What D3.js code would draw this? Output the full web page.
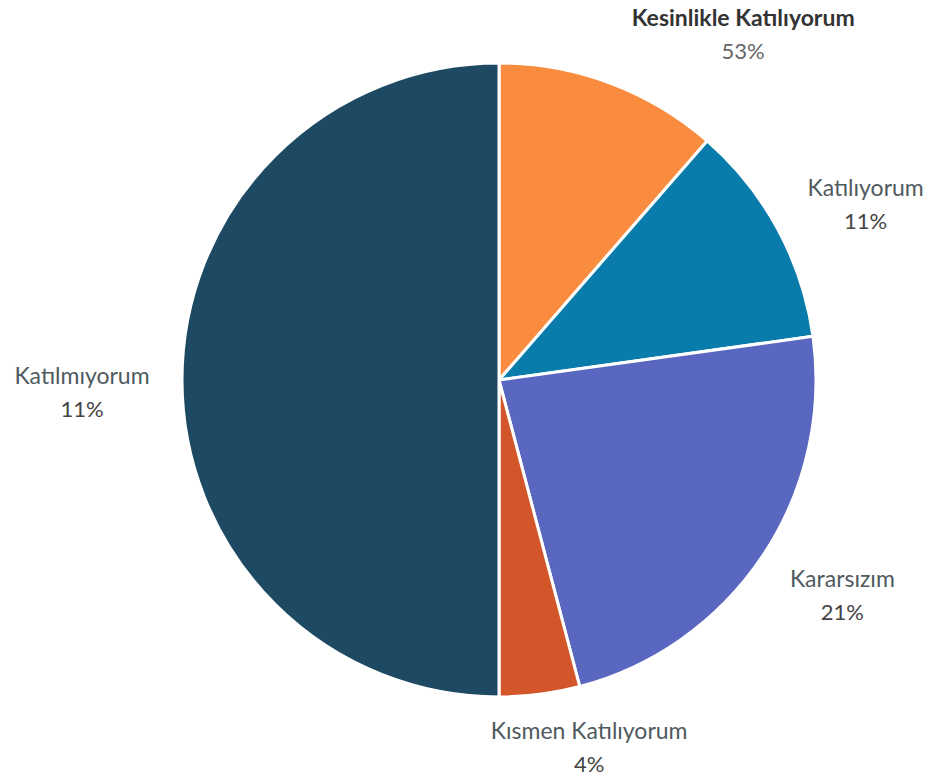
<!DOCTYPE html>
<html><head><meta charset="utf-8">
<script src="https://cdn.jsdelivr.net/npm/d3@7"></script>
<style>body{margin:0;background:#fff}svg{display:block}</style>
</head><body>
<svg id="c" width="931" height="783"></svg>
<script>
const categories = ["Kesinlikle Katılıyorum","Katılıyorum","Kararsızım","Kısmen Katılıyorum","Katılmıyorum"];
const sliceValues = [11.4, 11.4, 23.1, 4.1, 50];
const labelPercents = ["53%","11%","21%","4%","11%"];
const colors = ["#f98c3f","#0a7cab","#5a67c0","#d3562a","#1d4a62"];

// label layout: [angle in degrees clockwise from top, distance from centre]
const labelLayout = [[34.6, 430], [63.4, 410], [121.1, 401], [165.9, 370], [269.45, 417]];

const svg = d3.select("#c");
const cx = 499, cy = 380, R = 317;
const g = svg.append("g").attr("transform", `translate(${cx},${cy})`);
const pie = d3.pie().sort(null).value(d => d)(sliceValues);
const arc = d3.arc().innerRadius(0).outerRadius(R);
g.selectAll("path").data(pie).join("path")
  .attr("d", arc).attr("fill", (d,i) => colors[i])
  .attr("stroke", "#fff").attr("stroke-width", 3).attr("stroke-linejoin","round");

const lab = g.selectAll("g.lab").data(pie).join("g").attr("class","lab")
  .attr("transform", (d,i) => {
    const a = labelLayout[i][0] * Math.PI / 180, r = labelLayout[i][1];
    return `translate(${r*Math.sin(a)},${-r*Math.cos(a)})`;
  });
const font = "Lato, 'Open Sans', sans-serif";
lab.append("text").attr("text-anchor","middle").attr("y",0)
  .style("font-family",font).style("font-size","23px")
  .style("font-weight",(d,i)=> i===0 ? 700 : 400)
  .attr("fill",(d,i)=> i===0 ? "#333" : "#4f5a5e")
  .text((d,i)=>categories[i]);
lab.append("text").attr("text-anchor","middle").attr("y",33)
  .style("font-family",font).style("font-size","22px")
  .attr("fill",(d,i)=> i===0 ? "#666" : "#444")
  .text((d,i)=>labelPercents[i]);
</script>
</body></html>
